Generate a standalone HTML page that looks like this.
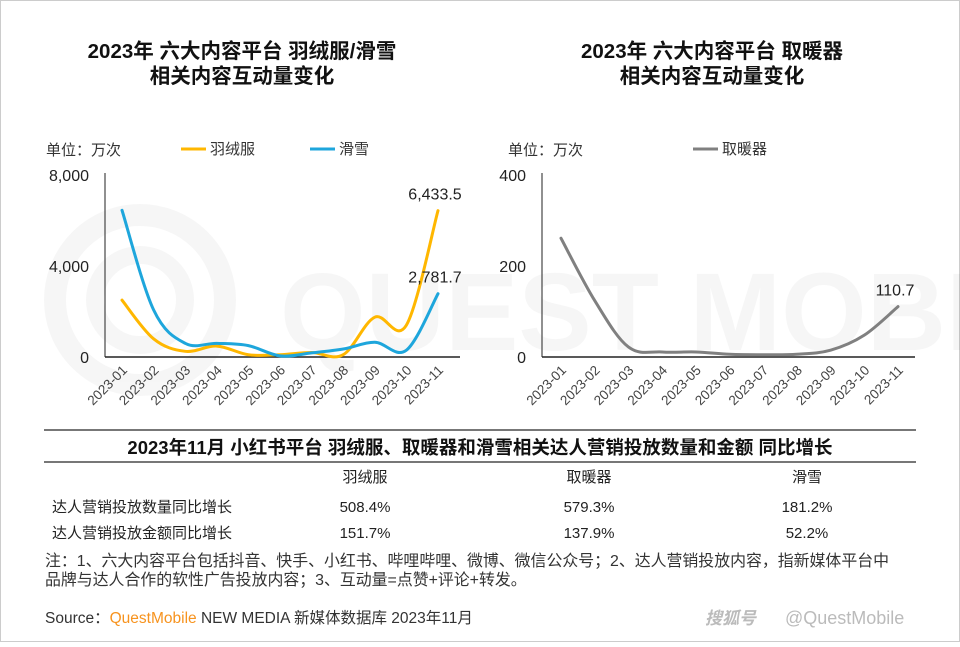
<!DOCTYPE html>
<html><head><meta charset="utf-8">
<style>
body{margin:0;background:#fff;}
svg text{font-family:"Liberation Sans","Noto Sans CJK SC",sans-serif;}
</style></head>
<body>
<svg id="c" width="960" height="642" viewBox="0 0 960 642" xmlns="http://www.w3.org/2000/svg">
<rect x="0.5" y="0.5" width="959" height="641" fill="#fff" stroke="#ccc"/>
<g opacity="0.03">
<circle cx="140" cy="300" r="85" fill="none" stroke="#000" stroke-width="22"/>
<circle cx="140" cy="300" r="45" fill="none" stroke="#000" stroke-width="18"/>
<text x="280" y="350" font-size="110" fill="#000" font-weight="bold">QUEST MOBILE</text>
</g>
<text x="242" y="58" font-size="20.5" font-weight="bold" text-anchor="middle" fill="#111">2023年 六大内容平台 羽绒服/滑雪</text>
<text x="242" y="83" font-size="20.5" font-weight="bold" text-anchor="middle" fill="#111">相关内容互动量变化</text>
<text x="712" y="58" font-size="20.5" font-weight="bold" text-anchor="middle" fill="#111">2023年 六大内容平台 取暖器</text>
<text x="712" y="83" font-size="20.5" font-weight="bold" text-anchor="middle" fill="#111">相关内容互动量变化</text>
<text x="46" y="155" font-size="15" fill="#333">单位：万次</text>
<text x="508" y="155" font-size="15" fill="#333">单位：万次</text>
<g>
<line x1="181" y1="149" x2="206" y2="149" stroke="#FFB700" stroke-width="3"/>
<text x="210" y="154" font-size="15" fill="#333">羽绒服</text>
<line x1="310" y1="149" x2="335" y2="149" stroke="#1EA6DC" stroke-width="3"/>
<text x="339" y="154" font-size="15" fill="#333">滑雪</text>
</g>
<g>
<line x1="693" y1="149" x2="718" y2="149" stroke="#808080" stroke-width="3"/>
<text x="722" y="154" font-size="15" fill="#333">取暖器</text>
</g>
<g id="left"></g>
<g id="right"></g>
<line x1="44" y1="430" x2="916" y2="430" stroke="#777" stroke-width="2"/>
<text x="480" y="454" font-size="18.5" font-weight="bold" text-anchor="middle" fill="#111">2023年11月 小红书平台 羽绒服、取暖器和滑雪相关达人营销投放数量和金额 同比增长</text>
<line x1="44" y1="462" x2="916" y2="462" stroke="#777" stroke-width="2"/>
<g font-size="15" fill="#222" text-anchor="middle">
<text x="365" y="482">羽绒服</text><text x="589" y="482">取暖器</text><text x="807" y="482">滑雪</text>
<text x="142" y="512">达人营销投放数量同比增长</text><text x="365" y="512">508.4%</text><text x="589" y="512">579.3%</text><text x="807" y="512">181.2%</text>
<text x="142" y="538">达人营销投放金额同比增长</text><text x="365" y="538">151.7%</text><text x="589" y="538">137.9%</text><text x="807" y="538">52.2%</text>
</g>
<text x="45" y="566" font-size="15.9" fill="#333">注：1、六大内容平台包括抖音、快手、小红书、哔哩哔哩、微博、微信公众号；2、达人营销投放内容，指新媒体平台中</text>
<text x="45" y="585" font-size="15.9" fill="#333">品牌与达人合作的软性广告投放内容；3、互动量=点赞+评论+转发。</text>
<text x="45" y="623" font-size="15.5" fill="#333">Source：<tspan fill="#F7931E">QuestMobile</tspan> NEW MEDIA 新媒体数据库 2023年11月</text>
<text x="705" y="624" font-size="17" fill="#bbb" font-style="italic" font-weight="bold">搜狐号</text>
<text x="785" y="624" font-size="18" fill="#bbb">@QuestMobile</text>
</svg>
<script>
const months=["2023-01","2023-02","2023-03","2023-04","2023-05","2023-06","2023-07","2023-08","2023-09","2023-10","2023-11"];
const downValues=[2500,800,250,480,100,100,200,100,1750,1400,6433.5];
const skiValues=[6450,2070,600,600,500,50,180,350,650,300,2781.7];
const heaterValues=[261,124,22,11,11,6,5,6,15,48,110.7];
const leftTicks=[0,4000,8000];
const rightTicks=[0,200,400];
const NS="http://www.w3.org/2000/svg";
function mk(p,t,a){const e=document.createElementNS(NS,t);for(const k in a)e.setAttribute(k,a[k]);p.appendChild(e);return e;}
function smooth(pts){let d="M"+pts[0][0]+","+pts[0][1];for(let i=0;i<pts.length-1;i++){const p0=pts[Math.max(0,i-1)],p1=pts[i],p2=pts[i+1],p3=pts[Math.min(pts.length-1,i+2)];const t=0.17;d+=" C"+(p1[0]+(p2[0]-p0[0])*t)+","+(p1[1]+(p2[1]-p0[1])*t)+" "+(p2[0]-(p3[0]-p1[0])*t)+","+(p2[1]-(p3[1]-p1[1])*t)+" "+p2[0]+","+p2[1];}return d;}
function chart(gid,x0,x1,first,step,yMax,ticks,series,fmt){
 const g=document.getElementById(gid);
 const y0=357,yTop=175;
 const ys=v=>y0-(v/yMax)*(y0-yTop);
 const xs=i=>first+i*step;
 let ax=mk(g,"line",{x1:x0,y1:yTop-2,x2:x0,y2:y0,stroke:"#222","stroke-width":1});
 
 
 let bx=mk(g,"line",{x1:x0,y1:y0,x2:x1,y2:y0,stroke:"#222","stroke-width":1.5});
 
 
 ticks.forEach(t=>{const e=mk(g,"text",{x:x0-16,y:ys(t)+6,"font-size":16,"text-anchor":"end",fill:"#222"});e.textContent=t.toLocaleString("en-US");
  
  });
 months.forEach((m,i)=>{const e=mk(g,"text",{x:xs(i)+6,y:y0+14,"font-size":13.5,"text-anchor":"end",fill:"#444",transform:"rotate(-45 "+(xs(i)+6)+" "+(y0+14)+")"});e.textContent=m;
  
  });
 series.forEach(s=>{const pts=s.v.map((v,i)=>[xs(i),ys(v)]);
  const p=mk(g,"path",{d:smooth(pts),fill:"none",stroke:s.c,"stroke-width":3,"stroke-linecap":"round"});
  
  
  const last=s.v.length-1;
  const l=mk(g,"text",{x:xs(last)-3,y:ys(s.v[last])-11,"font-size":16,"text-anchor":"middle",fill:"#222"});
  l.textContent=fmt(s.v[last]);
  
  });
}
const f1=v=>v.toLocaleString("en-US",{minimumFractionDigits:1,maximumFractionDigits:1});
chart("left",105,460,122,31.6,8000,leftTicks,[{v:downValues,c:"#FFB700",n:"down-jacket"},{v:skiValues,c:"#1EA6DC",n:"skiing"}],f1);
chart("right",542,915,561,33.7,400,rightTicks,[{v:heaterValues,c:"#808080",n:"heater"}],f1);
</script>
</body></html>
